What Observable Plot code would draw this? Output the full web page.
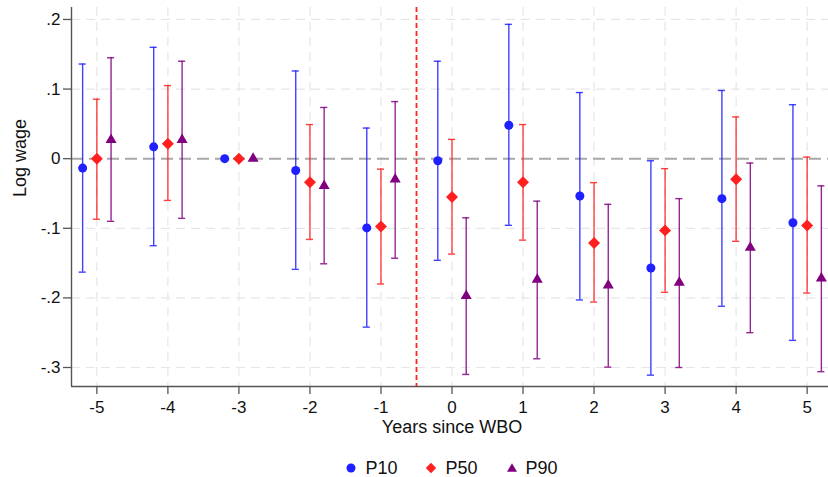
<!DOCTYPE html>
<html>
<head>
<meta charset="utf-8">
<script src="https://cdn.jsdelivr.net/npm/d3@7"></script>
<script src="https://cdn.jsdelivr.net/npm/@observablehq/plot@0.6"></script>
<style>
  html, body { margin: 0; padding: 0; background: #fff; }
  #wrap { width: 828px; height: 477px; overflow: hidden; position: relative; font-family: "Liberation Sans", Arial, Helvetica, sans-serif; }
  #inner { width: 832px; }
  #legend { width: 761px; padding-left: 71px; margin-top: 8px; height: 20px; display: flex; justify-content: center; align-items: center; font-size: 18px; color: #111; }
  .item { display: flex; align-items: center; margin: 0 14px; }
  .item svg { margin-right: 8px; }
</style>
</head>
<body>
<div id="wrap"><div id="inner"><div id="chart"></div><div id="legend"></div></div></div>
<script>
// ---- data ----
const years = [-5, -4, -3, -2, -1, 0, 1, 2, 3, 4, 5];
const seriesNames = ["P10", "P50", "P90"];
const seriesColors = ["#1f1fff", "#ff1f1f", "#800080"];
const seriesOffsets = [-0.2, 0, 0.2];

const p10Est = [-0.0135, 0.017, 0, -0.017, -0.0995, -0.003, 0.048, -0.0536, -0.157, -0.0574, -0.092];
const p10Hi  = [0.136, 0.160, null, 0.126, 0.044, 0.140, 0.193, 0.095, -0.003, 0.098, 0.0775];
const p10Lo  = [-0.163, -0.125, null, -0.159, -0.242, -0.146, -0.0957, -0.203, -0.311, -0.212, -0.261];

const p50Est = [0, 0.0215, 0, -0.034, -0.0976, -0.055, -0.034, -0.121, -0.103, -0.0297, -0.096];
const p50Hi  = [0.0855, 0.105, null, 0.049, -0.015, 0.0277, 0.049, -0.0344, -0.0143, 0.060, 0.0023];
const p50Lo  = [-0.087, -0.060, null, -0.116, -0.180, -0.137, -0.117, -0.206, -0.192, -0.1187, -0.193];

const p90Est = [0.027, 0.027, 0, -0.039, -0.0297, -0.197, -0.1736, -0.182, -0.178, -0.1277, -0.172];
const p90Hi  = [0.145, 0.140, null, 0.0736, 0.082, -0.085, -0.061, -0.0656, -0.0574, -0.0063, -0.039];
const p90Lo  = [-0.090, -0.0857, null, -0.151, -0.143, -0.310, -0.2875, -0.2995, -0.300, -0.250, -0.306];

const xTicks = [-5, -4, -3, -2, -1, 0, 1, 2, 3, 4, 5];
const xTickLabels = ["-5", "-4", "-3", "-2", "-1", "0", "1", "2", "3", "4", "5"];
const yTicks = [-0.3, -0.2, -0.1, 0, 0.1, 0.2];
const yTickLabels = ["-.3", "-.2", "-.1", "0", ".1", ".2"];
const eventLine = -0.5;
const xLabel = "Years since WBO";
const yLabel = "Log wage";

// ---- build table ----
const estArr = [p10Est, p50Est, p90Est];
const hiArr = [p10Hi, p50Hi, p90Hi];
const loArr = [p10Lo, p50Lo, p90Lo];
const rows = [];
seriesNames.forEach((s, i) => {
  years.forEach((yr, j) => {
    rows.push({series: s, year: yr, x: yr + seriesOffsets[i], est: estArr[i][j], hi: hiArr[i][j], lo: loArr[i][j]});
  });
});
const ciRows = rows.filter(d => d.hi != null && d.lo != null);
const capHalf = 0.05;

const xDomain = [-5.357, 5.357];
const yDomain = [-0.3273, 0.2172];
const W = 832, H = 450, mL = 71, mT = 7, mB = 64, mR = 0;

const symbols = {P10: "circle", P50: "diamond2", P90: "triangle"};
const radii = {P10: 4.5, P50: 5.4, P90: 4.1};

const gridStyle = {stroke: "#e6e6e6", strokeWidth: 1.2, strokeDasharray: "9,6"};

const marks = [
  Plot.ruleX(xTicks, {...gridStyle}),
  Plot.ruleY(yTicks.filter(d => d !== 0), {...gridStyle}),
  Plot.ruleY([0], {stroke: "#a8a8a8", strokeWidth: 2, strokeDasharray: "12,6"}),
  Plot.ruleX([eventLine], {stroke: "#ff2222", strokeWidth: 1.8, strokeDasharray: "5,3"}),
  Plot.ruleX(ciRows, {x: "x", y1: "lo", y2: "hi", stroke: "series", strokeWidth: 1.4, strokeOpacity: 0.85}),
  Plot.ruleY(ciRows, {y: "hi", x1: d => d.x - capHalf, x2: d => d.x + capHalf, stroke: "series", strokeWidth: 1.4, strokeOpacity: 0.85}),
  Plot.ruleY(ciRows, {y: "lo", x1: d => d.x - capHalf, x2: d => d.x + capHalf, stroke: "series", strokeWidth: 1.4, strokeOpacity: 0.85}),
  ...seriesNames.map(s => Plot.dot(rows.filter(d => d.series === s), {x: "x", y: "est", fill: "series", symbol: symbols[s], r: radii[s]})),
  Plot.ruleX([xDomain[0]], {stroke: "#555", strokeWidth: 1.4}),
  Plot.ruleY([yDomain[0]], {stroke: "#555", strokeWidth: 1.4}),
  Plot.axisX({ticks: xTicks, tickFormat: d => xTickLabels[xTicks.indexOf(d)], tickSize: 8, tickPadding: 6, fontSize: 17, stroke: "#555", strokeWidth: 1.3, label: null}),
  Plot.axisY({ticks: yTicks, tickFormat: d => yTickLabels[yTicks.findIndex(t => Math.abs(t - d) < 1e-9)], tickSize: 8, tickPadding: 3, fontSize: 17, stroke: "#555", strokeWidth: 1.3, label: null}),
  Plot.text([xLabel], {frameAnchor: "bottom", dy: 46, fontSize: 18, fill: "#111", text: d => d}),
  Plot.text([yLabel], {frameAnchor: "left", dx: -51, rotate: -90, fontSize: 18, fill: "#111", text: d => d})
];

const chart = Plot.plot({
  width: W, height: H,
  marginLeft: mL, marginRight: mR, marginTop: mT, marginBottom: mB,
  x: {domain: xDomain},
  y: {domain: yDomain},
  color: {domain: seriesNames, range: seriesColors},
  style: {fontFamily: '"Liberation Sans", Arial, Helvetica, sans-serif', color: "#111", background: "#fff", overflow: "visible"},
  marks
});
document.getElementById("chart").appendChild(chart);

// ---- legend ----
const legend = document.getElementById("legend");
const legendShapes = {
  P10: '<circle cx="6" cy="6" r="4.5"/>',
  P50: '<path d="M6,0.8L11.2,6L6,11.2L0.8,6Z"/>',
  P90: '<path d="M6,1.2L11,9.8L1,9.8Z"/>'
};
seriesNames.forEach((s, i) => {
  const el = document.createElement("div");
  el.className = "item";
  el.innerHTML = `<svg width="12" height="12" fill="${seriesColors[i]}">${legendShapes[s]}</svg><span>${s}</span>`;
  legend.appendChild(el);
});
</script>
</body>
</html>
